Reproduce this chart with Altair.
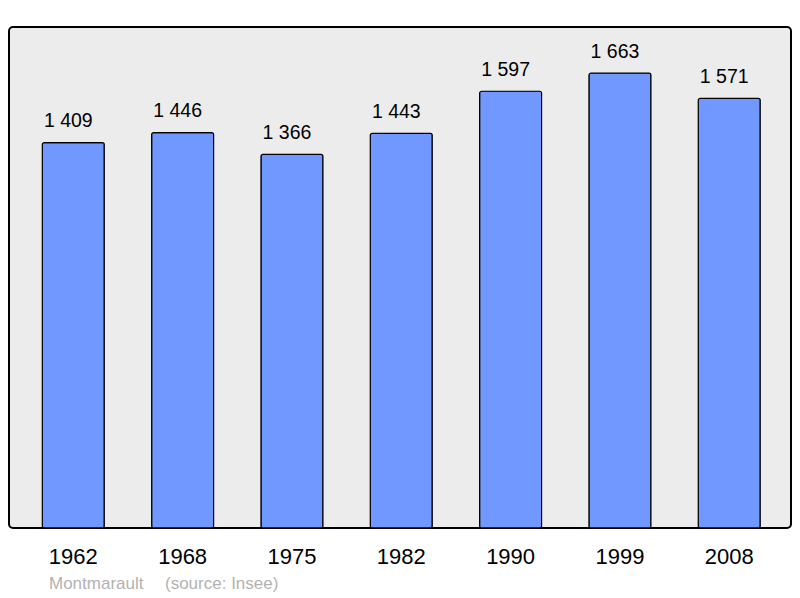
import altair as alt
import pandas as pd

years = ["1962", "1968", "1975", "1982", "1990", "1999", "2008"]
population = [1409, 1446, 1366, 1443, 1597, 1663, 1571]
labels = [f"{v:,}".replace(",", " ") for v in population]
footer_texts = ["Montmarault", "(source: Insee)"]

df = pd.DataFrame({"year": years, "pop": population, "label": labels})
foot = pd.DataFrame({"t": footer_texts, "px": [40, 156]})

FONT = "Liberation Sans"

x = alt.X("year:N", sort=years, title=None,
          scale=alt.Scale(paddingInner=0.433, paddingOuter=0.293, align=0.52),
          axis=alt.Axis(domain=False, ticks=False, labelAngle=0, labelFontSize=22,
                        labelFont=FONT, labelColor="#000000", labelPadding=18))
y = alt.Y("pop:Q", title=None, scale=alt.Scale(domain=[0, 1832], nice=False),
          axis=None)

bars = alt.Chart(df).mark_bar(color="#7098ff", stroke="#000000", strokeWidth=1.2,
                              cornerRadius=2).encode(x=x, y=y)
text = alt.Chart(df).mark_text(baseline="alphabetic", dy=-15.5, dx=-5, fontSize=19.5,
                               font=FONT, color="#000000").encode(x=x, y=y, text="label:N")
footer = alt.Chart(foot).mark_text(align="left", baseline="middle", fontSize=17, font=FONT,
                                   color="#b3b3b3").encode(
    x=alt.X("px:Q", scale=None), y=alt.value(557), text="t:N")

chart = alt.layer(bars, text, footer).properties(
    width=782, height=501,
    autosize=alt.AutoSizeParams(type="none"),
    padding={"left": 1, "top": 19, "right": 1, "bottom": 66},
).configure_view(
    fill="#ececec", stroke="#000000", strokeWidth=2, cornerRadius=4
)

chart.save("out.html", embed_options={"renderer": "svg", "actions": False})
